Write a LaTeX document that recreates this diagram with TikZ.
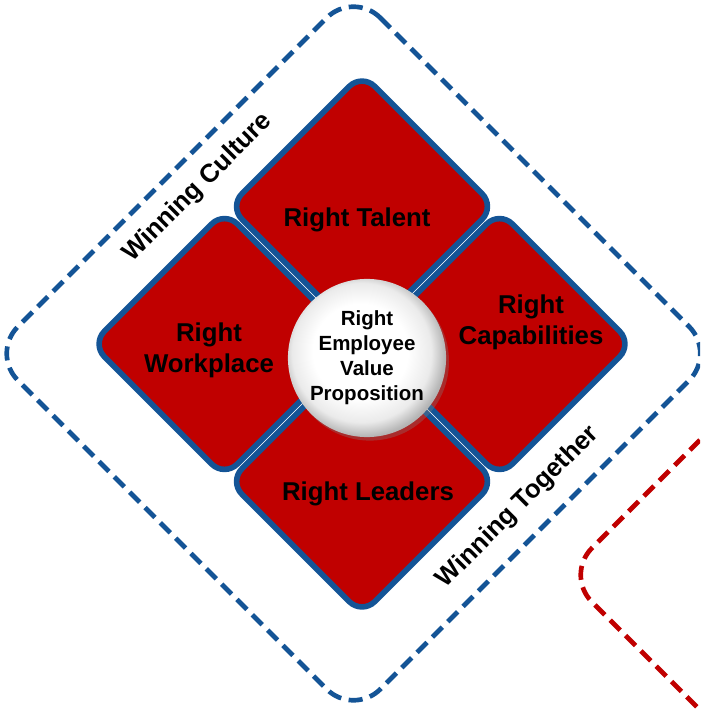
\documentclass[tikz,border=0pt]{standalone}
\usepackage{fontspec}
\setmainfont{Liberation Sans}
\usetikzlibrary{shapes.geometric,shadows}
\definecolor{wred}{RGB}{192,0,0}
\definecolor{wblue}{RGB}{20,84,150}
\pgfdeclareradialshading{evpshade}{\pgfpoint{-3bp}{3bp}}{color(0bp)=(white); color(15bp)=(white); color(22bp)=(black!8); color(26bp)=(black!28); color(30bp)=(black!40); color(50bp)=(black!40)}
\begin{document}
\begin{tikzpicture}[x=0.03cm,y=-0.03cm,
 quad/.style={draw=wblue,line width=4.8pt,fill=wred,diamond,inner sep=0pt,minimum width=8.04cm,minimum height=8.04cm,rounded corners=0.54cm},
 frame/.style={line width=4pt,dash pattern=on 12pt off 6.5pt,rounded corners=1.14cm},
 lbl/.style={font=\fontsize{22}{26.4}\selectfont\bfseries,align=center}]
\useasboundingbox(0,0)rectangle(700,710);
\clip(0,0)rectangle(700,710);
\draw[frame,draw=wblue](353.5,-9)--(716,353.5)--(353.5,716)--(-9,353.5)--cycle;
\draw[frame,draw=wred](927,213)--(1289,575)--(927,937)--(565,575)--cycle;
\node[quad](talent)at(362,206.5){};
\node[quad](workplace)at(224.5,344){};
\node[quad](capab)at(499.5,344){};
\node[quad](leaders)at(362,481.5){};
\node[circle,minimum size=4.4cm,shading=evpshade,drop shadow={shadow xshift=2.5pt,shadow yshift=-3pt,opacity=0.35},align=center,font=\fontsize{17.5}{21.3}\selectfont\bfseries](evp)at(367,358){Right\\Employee\\Value\\Proposition};
\node[lbl](talentlbl)at(357,220){Right Talent};
\node[lbl](workplacelbl)at(209,350){Right\\Workplace};
\node[lbl](capablbl)at(531,322){Right\\Capabilities};
\node[lbl](leaderslbl)at(368,494){Right Leaders};
\node[lbl,rotate=45](culture)at(198,188){Winning Culture};
\node[lbl,rotate=45](together)at(518,507){Winning Together};
\end{tikzpicture}
\end{document}
